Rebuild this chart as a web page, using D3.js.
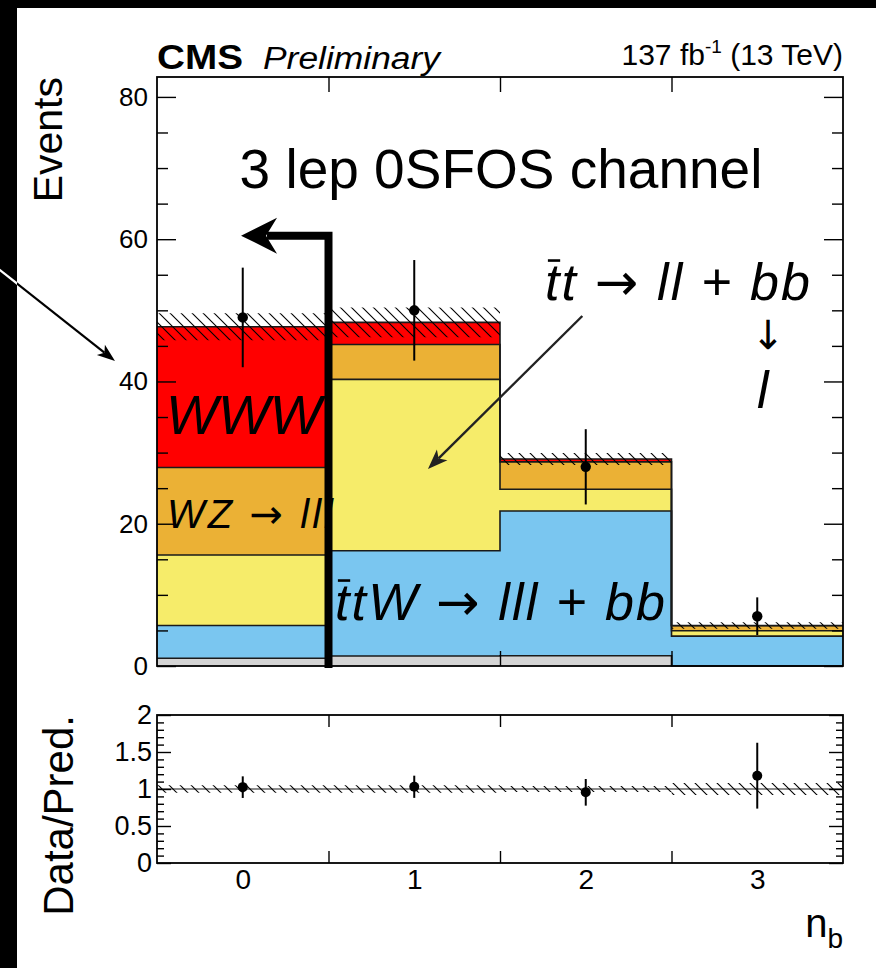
<!DOCTYPE html>
<html>
<head>
<meta charset="utf-8">
<script src="https://cdn.jsdelivr.net/npm/d3@7"></script>
<style>
  body { margin: 0; background: #fff; }
  text { font-family: "Liberation Sans", Arial, Helvetica, sans-serif; fill: #000; }
</style>
</head>
<body>
<svg id="chart" width="876" height="968"></svg>
<script>
// ---- data: number of b-tagged jets, 3 lepton 0SFOS channel ----
const bins = [0, 1, 2, 3];
const xTickLabels = ["0", "1", "2", "3"];
const otherBkg = [1.1, 1.4, 1.45, 0.0];     // grey
const ttW      = [4.6, 14.8, 20.35, 4.2];   // blue
const ttbar    = [9.9, 24.1, 3.05, 0.75];   // yellow
const wz       = [12.3, 4.9, 3.85, 0.7];    // orange
const www      = [19.8, 3.1, 0.4, 0.05];    // red
const bkgUnc   = [1.9, 2.1, 0.85, 0.45];
const dataVals = [49, 50, 28, 7];
const dataErr  = [7.0, 7.07, 5.29, 2.65];
const ratioVals = [1.025, 1.03, 0.955, 1.18];
const ratioErr  = [0.146, 0.15, 0.18, 0.445];
const ratioBand = [0.05, 0.05, 0.04, 0.08];
const mainYTicks = [0, 20, 40, 60, 80];
const ratioYTicks = [0, 0.5, 1, 1.5, 2];

const layers = [
  { name: "other", vals: otherBkg, color: "#d4d4d4" },
  { name: "ttW",   vals: ttW,      color: "#7ac6f0" },
  { name: "ttbar", vals: ttbar,    color: "#f6ec6a" },
  { name: "WZ",    vals: wz,       color: "#ebb135" },
  { name: "WWW",   vals: www,      color: "#ff0000" }
];

const svg = d3.select("#chart");
const L = 157, R = 843;
const x = d3.scaleLinear().domain([-0.5, 3.5]).range([L, R]);
const yMain = d3.scaleLinear().domain([0, 82.8]).range([666, 77]);
const yRatio = d3.scaleLinear().domain([0, 2]).range([863, 715]);
const edges = [-0.5, 0.5, 1.5, 2.5, 3.5];
const ARROW_FONT = "'DejaVu Sans', sans-serif";

// hatch pattern for the uncertainty bands
const defs = svg.append("defs");
const pat = defs.append("pattern").attr("id", "hatch")
  .attr("patternUnits", "userSpaceOnUse").attr("width", 11).attr("height", 11);
pat.append("path").attr("d", "M0,0L11,11M-2,9L2,13M9,-2L13,2")
  .attr("stroke", "#000").attr("stroke-width", 1.1);

defs.append("clipPath").attr("id", "bandClip")
  .append("rect").attr("x", 0).attr("y", 0).attr("width", 17).attr("height", 968);

// step helpers: one point per bin edge, last value repeated
const stepPts = (lo, hi) => edges.map((e, i) => {
  const k = Math.min(i, bins.length - 1);
  return { x: e, lo: lo[k], hi: hi[k] };
});

// ---- main panel: stacked backgrounds ----
const gMain = svg.append("g");
let cum = bins.map(() => 0);
const cumLevels = [];
layers.forEach(ly => {
  const lo = cum.slice();
  const hi = cum.map((c, i) => c + ly.vals[i]);
  cumLevels.push({ lo, hi, color: ly.color });
  cum = hi;
});
const total = cum;

const area = (ys) => d3.area().x(d => x(d.x)).y0(d => ys(d.lo)).y1(d => ys(d.hi)).curve(d3.curveStepAfter);
const lineHi = (ys) => d3.line().x(d => x(d.x)).y(d => ys(d.hi)).curve(d3.curveStepAfter);

cumLevels.forEach(c => {
  gMain.append("path").attr("d", area(yMain)(stepPts(c.lo, c.hi)))
    .attr("fill", c.color).attr("stroke", "none");
});
cumLevels.forEach(c => {
  gMain.append("path").attr("d", lineHi(yMain)(stepPts(c.lo, c.hi)))
    .attr("fill", "none").attr("stroke", "#1a1a1a").attr("stroke-width", 1.6);
});

// total background uncertainty
gMain.append("path")
  .attr("d", area(yMain)(stepPts(total.map((t, i) => t - bkgUnc[i]), total.map((t, i) => t + bkgUnc[i]))))
  .attr("fill", "url(#hatch)").attr("stroke", "none");

// observed data
const dataG = gMain.append("g");
bins.forEach((b, i) => {
  dataG.append("line").attr("x1", x(b)).attr("x2", x(b))
    .attr("y1", yMain(dataVals[i] - dataErr[i])).attr("y2", yMain(dataVals[i] + dataErr[i]))
    .attr("stroke", "#000").attr("stroke-width", 2);
  dataG.append("circle").attr("cx", x(b)).attr("cy", yMain(dataVals[i])).attr("r", 5.2).attr("fill", "#000");
});

// process labels inside the plot; arrows use a font with full-size arrow glyphs
const italicLabel = (parts, px, py, size, len) => {
  const t = gMain.append("text").attr("x", px).attr("y", py)
    .attr("font-size", size).attr("font-style", "italic");
  parts.forEach(p => {
    const s = t.append("tspan").text(p);
    if (p.includes("\u2192")) s.style("font-family", ARROW_FONT).attr("font-style", "normal");
  });
  if (len) t.attr("textLength", len);
  return t;
};
// bar over the leading "t" (anti-top)
const overbar = (t) => {
  const ext = t.node().getExtentOfChar(0);
  gMain.append("line")
    .attr("x1", ext.x + ext.width * 0.2).attr("x2", ext.x + ext.width * 1.05)
    .attr("y1", ext.y + ext.height * 0.13).attr("y2", ext.y + ext.height * 0.13)
    .attr("stroke", "#000").attr("stroke-width", 2.6);
};

gMain.append("text").attr("x", 501).attr("y", 188).attr("text-anchor", "middle")
  .attr("font-size", 55).text("3 lep 0SFOS channel");

italicLabel(["WWW"], 166, 434, 55);
italicLabel(["WZ ", "\u2192", " lll"], 167, 528, 40, 166);
const ttwLbl = italicLabel(["ttW ", "\u2192", " lll + bb"], 335, 620, 52, 330);
overbar(ttwLbl);
const ttLbl = italicLabel(["tt ", "\u2192", " ll + bb"], 545, 300, 52, 265);
overbar(ttLbl);
gMain.append("text").attr("x", 768).attr("y", 349).attr("text-anchor", "middle")
  .style("font-family", ARROW_FONT).attr("font-size", 40).text("\u2193");
italicLabel(["l"], 757, 408, 52);

// ---- main panel axes ----
const axMain = svg.append("g");
const minorMain = d3.range(0, 81, 5).filter(v => v % 20 !== 0);
axMain.append("g").attr("transform", `translate(${L},0)`)
  .call(d3.axisLeft(yMain).tickValues(minorMain).tickSize(-11).tickFormat(""));
axMain.append("g").attr("class", "lbl-main").attr("transform", `translate(${L},0)`)
  .call(d3.axisLeft(yMain).tickValues(mainYTicks).tickSize(-19).tickPadding(9).tickFormat(d3.format("d")));
axMain.append("g").attr("transform", `translate(${R},0)`)
  .call(d3.axisRight(yMain).tickValues(minorMain).tickSize(-11).tickFormat(""));
axMain.append("g").attr("transform", `translate(${R},0)`)
  .call(d3.axisRight(yMain).tickValues(mainYTicks).tickSize(-19).tickFormat(""));
axMain.append("g").attr("transform", `translate(0,${yMain(0)})`)
  .call(d3.axisBottom(x).tickValues([0.5, 1.5, 2.5]).tickSize(-15).tickFormat(""));
axMain.append("g").attr("transform", `translate(0,77)`)
  .call(d3.axisTop(x).tickValues([0.5, 1.5, 2.5]).tickSize(-15).tickFormat(""));

// ---- ratio panel ----
const gRatio = svg.append("g");
gRatio.append("line").attr("x1", L).attr("x2", R).attr("y1", yRatio(1)).attr("y2", yRatio(1))
  .attr("stroke", "#8c8c8c").attr("stroke-width", 2);
gRatio.append("path")
  .attr("d", area(yRatio)(stepPts(ratioBand.map(u => 1 - u), ratioBand.map(u => 1 + u))))
  .attr("fill", "url(#hatch)").attr("stroke", "none");
bins.forEach((b, i) => {
  gRatio.append("line").attr("x1", x(b)).attr("x2", x(b))
    .attr("y1", yRatio(ratioVals[i] - ratioErr[i])).attr("y2", yRatio(ratioVals[i] + ratioErr[i]))
    .attr("stroke", "#000").attr("stroke-width", 2);
  gRatio.append("circle").attr("cx", x(b)).attr("cy", yRatio(ratioVals[i])).attr("r", 5).attr("fill", "#000");
});

const minorR = d3.range(0, 2.001, 0.1).map(v => +v.toFixed(1)).filter(v => !ratioYTicks.includes(v));
const axRatio = svg.append("g");
axRatio.append("g").attr("transform", `translate(${L},0)`)
  .call(d3.axisLeft(yRatio).tickValues(minorR).tickSize(-7).tickFormat(""));
axRatio.append("g").attr("class", "lbl-ratio").attr("transform", `translate(${L},0)`)
  .call(d3.axisLeft(yRatio).tickValues(ratioYTicks).tickSize(-14).tickPadding(5).tickFormat(d => String(d)));
axRatio.append("g").attr("transform", `translate(${R},0)`)
  .call(d3.axisRight(yRatio).tickValues(minorR).tickSize(-7).tickFormat(""));
axRatio.append("g").attr("transform", `translate(${R},0)`)
  .call(d3.axisRight(yRatio).tickValues(ratioYTicks).tickSize(-14).tickFormat(""));
axRatio.append("g").attr("transform", `translate(0,${yRatio(0)})`)
  .call(d3.axisBottom(x).tickValues([0.5, 1.5, 2.5]).tickSize(-12).tickFormat(""));
axRatio.append("g").attr("transform", `translate(0,${yRatio(2)})`)
  .call(d3.axisTop(x).tickValues([0.5, 1.5, 2.5]).tickSize(-12).tickFormat(""));
axRatio.append("g").attr("class", "lbl-x").attr("transform", `translate(0,${yRatio(0)})`)
  .call(d3.axisBottom(x).tickValues(bins).tickSize(0).tickPadding(6).tickFormat((d, i) => xTickLabels[i]));

svg.selectAll(".domain").remove();
svg.selectAll(".tick line").attr("stroke", "#000").attr("stroke-width", 1.4);
svg.selectAll(".tick text").attr("fill", "#000")
  .style("font-family", "'Liberation Sans', Arial, sans-serif");
svg.selectAll(".lbl-main .tick text").style("font-size", "26px");
svg.selectAll(".lbl-ratio .tick text").style("font-size", "27px");
svg.selectAll(".lbl-x .tick text").style("font-size", "28px");

// frames
[[77, 666], [715, 863]].forEach(([t, b]) => {
  svg.append("rect").attr("x", L).attr("y", t).attr("width", R - L).attr("height", b - t)
    .attr("fill", "none").attr("stroke", "#000").attr("stroke-width", 1.8);
});

// ---- annotation: bin boundary marker with arrow ----
const ann = svg.append("g");
const bx = x(0.5), by = yMain(60.5), tipX = x(-0.01);
ann.append("path")
  .attr("d", `M${bx},${yMain(0) + 2}V${by}H${tipX + 26}`)
  .attr("fill", "none").attr("stroke", "#000").attr("stroke-width", 8).attr("stroke-linejoin", "miter");
ann.append("path")
  .attr("d", `M${tipX},${by}L${tipX + 36},${by - 18}L${tipX + 25},${by}L${tipX + 36},${by + 18}Z`)
  .attr("fill", "#000");

// thin arrows
function arrow(g, x1, y1, x2, y2, len, hw, color, width) {
  const a = Math.atan2(y2 - y1, x2 - x1);
  const ux = Math.cos(a), uy = Math.sin(a);
  const bxp = x2 - ux * len, byp = y2 - uy * len;
  const nx = x2 - ux * len * 0.75, ny = y2 - uy * len * 0.75;
  g.append("line").attr("x1", x1).attr("y1", y1).attr("x2", nx).attr("y2", ny)
    .attr("stroke", color).attr("stroke-width", width);
  g.append("path").attr("d",
    `M${x2},${y2}L${bxp - uy * hw},${byp + ux * hw}L${nx},${ny}L${bxp + uy * hw},${byp - ux * hw}Z`)
    .attr("fill", color);
}
arrow(ann, x(1.98), yMain(49.2), x(1.08), yMain(27.7), 20, 7.5, "#222", 2.4);

// ---- outer border ----
svg.append("rect").attr("x", 0).attr("y", 0).attr("width", 17).attr("height", 968).attr("fill", "#000");
svg.append("rect").attr("x", 0).attr("y", 0).attr("width", 876).attr("height", 8).attr("fill", "#000");

// arrow entering from the left edge
const leftArrow = svg.append("g");
arrow(leftArrow, -2, 268.5, 115, 361, 18, 6.5, "#000", 2.2);
svg.append("line").attr("x1", -2).attr("y1", 268.5).attr("x2", 115).attr("y2", 361)
  .attr("stroke", "#fff").attr("stroke-width", 2.2).attr("clip-path", "url(#bandClip)");

// ---- titles and axis labels ----
svg.append("text").attr("x", 157).attr("y", 69).attr("font-size", 35).attr("font-weight", "bold")
  .attr("textLength", 86).attr("lengthAdjust", "spacingAndGlyphs").text("CMS");
svg.append("text").attr("x", 263).attr("y", 69).attr("font-size", 31).attr("font-style", "italic")
  .attr("textLength", 177).attr("lengthAdjust", "spacingAndGlyphs").text("Preliminary");
const lumi = svg.append("text").attr("x", 843).attr("y", 65).attr("text-anchor", "end").attr("font-size", 30);
lumi.append("tspan").text("137 fb");
lumi.append("tspan").attr("font-size", 19).attr("dy", -12).text("-1");
lumi.append("tspan").attr("dy", 12).text(" (13 TeV)");

svg.append("text").attr("transform", "translate(62,77) rotate(-90)").attr("text-anchor", "end")
  .attr("font-size", 41).text("Events");
svg.append("text").attr("transform", "translate(73,715) rotate(-90)").attr("text-anchor", "end")
  .attr("font-size", 42).text("Data/Pred.");

const xl = svg.append("text").attr("x", 843).attr("y", 937).attr("text-anchor", "end");
xl.append("tspan").attr("font-size", 40).text("n");
xl.append("tspan").attr("font-size", 28).attr("dy", 11).text("b");
</script>
</body>
</html>
